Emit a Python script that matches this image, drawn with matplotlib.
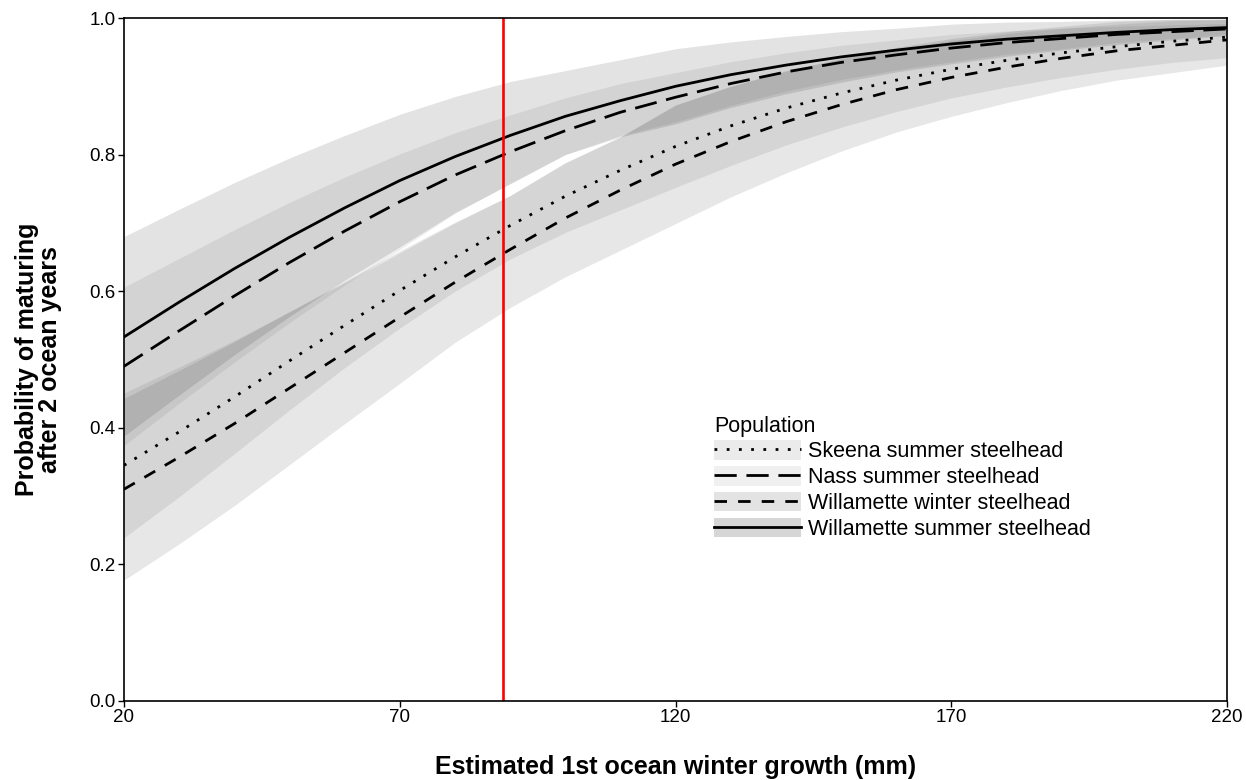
import matplotlib.pyplot as plt
from matplotlib.lines import Line2D
from matplotlib.patches import Patch

plt.rcParams["font.family"] = ["Liberation Sans", "DejaVu Sans"]

# estimated 1st ocean winter growth (mm)
growth = [20, 30, 40, 50, 60, 70, 80, 90, 100, 110, 120,
          130, 140, 150, 160, 170, 180, 190, 200, 210, 220]

populations = ["Skeena summer steelhead", "Nass summer steelhead",
               "Willamette winter steelhead", "Willamette summer steelhead"]

skeena_fit = [0.345, 0.394, 0.445, 0.498, 0.550, 0.601, 0.650, 0.696, 0.739, 0.777, 0.812,
              0.842, 0.868, 0.890, 0.909, 0.925, 0.938, 0.949, 0.958, 0.966, 0.972]
skeena_lo = [0.239, 0.299, 0.362, 0.426, 0.488, 0.546, 0.600, 0.647, 0.686, 0.719, 0.752,
             0.784, 0.814, 0.840, 0.863, 0.883, 0.899, 0.913, 0.925, 0.935, 0.942]
skeena_hi = [0.451, 0.489, 0.528, 0.570, 0.612, 0.656, 0.700, 0.740, 0.788, 0.826, 0.872,
             0.900, 0.922, 0.940, 0.955, 0.967, 0.977, 0.985, 0.991, 0.996, 0.998]

nass_fit = [0.490, 0.542, 0.593, 0.642, 0.688, 0.731, 0.770, 0.804, 0.835, 0.862, 0.884,
            0.904, 0.921, 0.935, 0.946, 0.956, 0.964, 0.970, 0.976, 0.980, 0.984]
nass_lo = [0.374, 0.436, 0.496, 0.554, 0.609, 0.661, 0.714, 0.758, 0.800, 0.828, 0.848,
           0.872, 0.893, 0.910, 0.924, 0.936, 0.947, 0.955, 0.964, 0.970, 0.976]
nass_hi = [0.606, 0.648, 0.690, 0.730, 0.767, 0.801, 0.832, 0.858, 0.883, 0.904, 0.920,
           0.936, 0.949, 0.960, 0.968, 0.976, 0.981, 0.985, 0.988, 0.990, 0.992]

winter_fit = [0.310, 0.357, 0.406, 0.458, 0.510, 0.562, 0.613, 0.661, 0.707, 0.748, 0.786,
              0.819, 0.848, 0.873, 0.895, 0.913, 0.928, 0.941, 0.952, 0.960, 0.968]
winter_lo = [0.177, 0.230, 0.286, 0.346, 0.406, 0.465, 0.525, 0.576, 0.621, 0.660, 0.699,
             0.738, 0.773, 0.805, 0.833, 0.856, 0.876, 0.894, 0.909, 0.920, 0.931]
winter_hi = [0.443, 0.484, 0.526, 0.570, 0.614, 0.659, 0.701, 0.740, 0.788, 0.826, 0.873,
             0.900, 0.923, 0.941, 0.957, 0.970, 0.980, 0.988, 0.995, 0.998, 0.999]

summer_fit = [0.533, 0.584, 0.633, 0.679, 0.722, 0.762, 0.797, 0.828, 0.856, 0.879, 0.900,
              0.917, 0.931, 0.943, 0.953, 0.962, 0.969, 0.974, 0.979, 0.983, 0.986]
summer_lo = [0.388, 0.448, 0.507, 0.563, 0.616, 0.665, 0.715, 0.757, 0.800, 0.826, 0.845,
             0.869, 0.889, 0.906, 0.921, 0.933, 0.944, 0.953, 0.961, 0.968, 0.974]
summer_hi = [0.680, 0.720, 0.759, 0.795, 0.828, 0.859, 0.885, 0.907, 0.923, 0.939, 0.955,
             0.965, 0.973, 0.980, 0.985, 0.991, 0.994, 0.995, 0.997, 0.998, 0.998]

reference_growth = 88.7

fits = [skeena_fit, nass_fit, winter_fit, summer_fit]
lows = [skeena_lo, nass_lo, winter_lo, summer_lo]
highs = [skeena_hi, nass_hi, winter_hi, summer_hi]
dashes = [(1, 3.4), (8, 3.5), (4.5, 4), None]
band_alpha = [0.075, 0.065, 0.095, 0.11]
key_colors = ["#ebebeb", "#f0f0f0", "#e3e3e3", "#d6d6d6"]

fig = plt.figure(figsize=(12.46, 7.80), dpi=100)
ax = fig.add_axes([0.0995, 0.1013, 0.8853, 0.8756])

for lo, hi, a in zip(lows, highs, band_alpha):
    ax.fill_between(growth, lo, hi, color="black", alpha=a, linewidth=0)

handles = []
for fit, d, kc in zip(fits, dashes, key_colors):
    line, = ax.plot(growth, fit, color="black", lw=2.0)
    if d is not None:
        line.set_dashes(d)
    key_line = Line2D([], [], color="black", lw=2.0)
    if d is not None:
        key_line.set_dashes(d)
    handles.append((Patch(facecolor=kc, edgecolor="none"), key_line))

ax.axvline(reference_growth, color="#ff0000", lw=1.9)

ax.set_xlim(20, 220)
ax.set_ylim(0, 1)
ax.set_xticks([20, 70, 120, 170, 220])
ax.set_yticks([0.0, 0.2, 0.4, 0.6, 0.8, 1.0])
ax.yaxis.set_major_formatter(plt.FormatStrFormatter("%.1f"))
ax.tick_params(direction="out", length=4, width=1, labelsize=13.5, colors="black", pad=2)
for s in ax.spines.values():
    s.set_linewidth(1.2)

ax.set_xlabel("Estimated 1st ocean winter growth (mm)", fontsize=18, fontweight="bold", labelpad=21)
ax.set_ylabel("Probability of maturing\nafter 2 ocean years", fontsize=18, fontweight="bold",
              labelpad=20, linespacing=0.95)

leg = ax.legend(handles, populations, title="Population", loc="upper left",
                bbox_to_anchor=(0.535, 0.418), frameon=False, fontsize=15.5,
                title_fontsize=15.5, handlelength=4.05, handleheight=1.0,
                labelspacing=0.18, handletextpad=0.3, borderpad=0, borderaxespad=0)
leg._legend_box.align = "left"

fig.savefig("out.png", dpi=100)
